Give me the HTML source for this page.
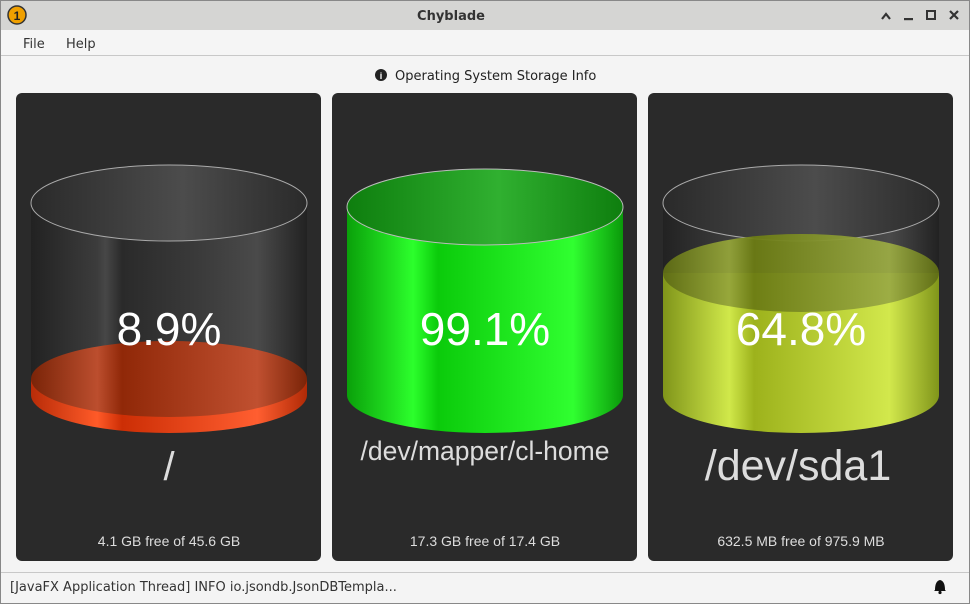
<!DOCTYPE html>
<html><head><meta charset="utf-8"><style>
html,body{margin:0;padding:0;width:970px;height:604px;overflow:hidden;background:#f4f4f4;font-family:"Liberation Sans","DejaVu Sans",sans-serif}
</style></head><body>
<svg width="970" height="604" viewBox="0 0 970 604" xmlns="http://www.w3.org/2000/svg" style="display:block">
<defs>
<linearGradient id="glass" x1="0" x2="1" y1="0" y2="0">
<stop offset="0" stop-color="#222"/><stop offset="0.24" stop-color="#3c3c3c"/><stop offset="0.27" stop-color="#474747"/><stop offset="0.33" stop-color="#2a2a2a"/><stop offset="0.6" stop-color="#3a3a3a"/><stop offset="0.82" stop-color="#4a4a4a"/><stop offset="1" stop-color="#222"/></linearGradient>
<linearGradient id="glassTop" x1="0" x2="1"><stop offset="0" stop-color="#2a2a2a"/><stop offset="0.55" stop-color="#4c4c4c"/><stop offset="1" stop-color="#2a2a2a"/></linearGradient>
<linearGradient id="red" x1="0" x2="1"><stop offset="0" stop-color="#b82c08"/><stop offset="0.24" stop-color="#ff5a28"/><stop offset="0.33" stop-color="#cc2e05"/><stop offset="0.82" stop-color="#ff5e30"/><stop offset="1" stop-color="#b02a06"/></linearGradient>
<linearGradient id="redTop" x1="0" x2="1"><stop offset="0" stop-color="#7a2408"/><stop offset="0.24" stop-color="#bc4e2e"/><stop offset="0.33" stop-color="#902808"/><stop offset="0.82" stop-color="#c05030"/><stop offset="1" stop-color="#7a2408"/></linearGradient>
<linearGradient id="green" x1="0" x2="1"><stop offset="0" stop-color="#0aa00a"/><stop offset="0.24" stop-color="#2cff2c"/><stop offset="0.33" stop-color="#0bcb0b"/><stop offset="0.82" stop-color="#30ff30"/><stop offset="1" stop-color="#0a9a0a"/></linearGradient>
<linearGradient id="greenTop" x1="0" x2="1"><stop offset="0" stop-color="#0e7e0e"/><stop offset="0.55" stop-color="#30b030"/><stop offset="1" stop-color="#0e7e0e"/></linearGradient>
<linearGradient id="yel" x1="0" x2="1"><stop offset="0" stop-color="#80951a"/><stop offset="0.24" stop-color="#d0e84a"/><stop offset="0.33" stop-color="#9db21c"/><stop offset="0.82" stop-color="#d2e84c"/><stop offset="1" stop-color="#80951a"/></linearGradient>
<linearGradient id="yelTop" x1="0" x2="1"><stop offset="0" stop-color="#5e6c14"/><stop offset="0.24" stop-color="#94a43a"/><stop offset="0.33" stop-color="#6c7c14"/><stop offset="0.82" stop-color="#9aaa44"/><stop offset="1" stop-color="#5e6c14"/></linearGradient>
</defs>
<!-- title bar -->
<rect x="0" y="0" width="970" height="30" fill="#d5d5d3"/>
<circle cx="17" cy="15" r="9" fill="#f0a000" stroke="#333" stroke-width="1.5"/>
<text x="17" y="20" font-size="12" font-weight="bold" text-anchor="middle" fill="#222">1</text>
<text x="451" y="20" font-size="13" font-weight="bold" text-anchor="middle" fill="#333" font-family="DejaVu Sans, sans-serif">Chyblade</text>
<path d="M882 19 L886 14 L890 19" stroke="#333" stroke-width="2.2" fill="none"/>
<rect x="904" y="18" width="9" height="2.2" fill="#333"/>
<rect x="927" y="11" width="8" height="8" fill="none" stroke="#333" stroke-width="2"/>
<path d="M950 11 L958 19 M958 11 L950 19" stroke="#333" stroke-width="2.2"/>
<!-- menu -->
<rect x="0" y="30" width="970" height="26" fill="#f5f5f5"/>
<line x1="0" y1="55.5" x2="970" y2="55.5" stroke="#c8c8c8"/>
<text x="23" y="48" font-size="13" fill="#333" font-family="DejaVu Sans, sans-serif">File</text>
<text x="66" y="48" font-size="13" fill="#333" font-family="DejaVu Sans, sans-serif">Help</text>
<!-- header -->
<circle cx="381" cy="75" r="6" fill="#222"/>
<text x="381" y="79" font-size="9" font-weight="bold" text-anchor="middle" fill="#fff">i</text>
<text x="395" y="80" font-size="13" fill="#222" font-family="DejaVu Sans, sans-serif">Operating System Storage Info</text>
<!-- panels -->
<rect x="16" y="93" width="305" height="468" rx="6" fill="#2a2a2a"/>
<rect x="332" y="93" width="305" height="468" rx="6" fill="#2a2a2a"/>
<rect x="648" y="93" width="305" height="468" rx="6" fill="#2a2a2a"/>

<!-- cyl 1 -->
<path d="M31 203 L31 395 A138 38 0 0 0 307 395 L307 203 Z" fill="url(#glass)"/>
<ellipse cx="169" cy="203" rx="138" ry="38" fill="url(#glassTop)" stroke="#aaa" stroke-width="1"/>
<path d="M31 379 L31 395 A138 38 0 0 0 307 395 L307 379 Z" fill="url(#red)"/>
<ellipse cx="169" cy="379" rx="138" ry="38" fill="url(#redTop)"/>
<text x="169" y="345" font-size="46" text-anchor="middle" fill="#fff">8.9%</text>
<text x="169" y="480" font-size="40" text-anchor="middle" fill="#ddd">/</text>
<text x="169" y="546" font-size="14" text-anchor="middle" fill="#ddd">4.1 GB free of 45.6 GB</text>

<!-- cyl 2 -->
<path d="M347 207 L347 395 A138 38 0 0 0 623 395 L623 207 Z" fill="url(#green)"/>
<ellipse cx="485" cy="207" rx="138" ry="38" fill="url(#greenTop)" stroke="#bbb" stroke-width="1"/>
<text x="485" y="345" font-size="46" text-anchor="middle" fill="#fff">99.1%</text>
<text x="485" y="460" font-size="26.5" text-anchor="middle" fill="#ddd">/dev/mapper/cl-home</text>
<text x="485" y="546" font-size="14" text-anchor="middle" fill="#ddd">17.3 GB free of 17.4 GB</text>

<!-- cyl 3 -->
<path d="M663 203 L663 395 A138 38 0 0 0 939 395 L939 203 Z" fill="url(#glass)"/>
<ellipse cx="801" cy="203" rx="138" ry="38" fill="url(#glassTop)" stroke="#aaa" stroke-width="1"/>
<path d="M663 273 L663 395 A138 38 0 0 0 939 395 L939 273 Z" fill="url(#yel)"/>
<ellipse cx="801" cy="273" rx="138" ry="39" fill="url(#yelTop)" opacity="0.95"/>
<text x="801" y="345" font-size="46" text-anchor="middle" fill="#fff">64.8%</text>
<text x="798" y="480" font-size="43" text-anchor="middle" fill="#ddd">/dev/sda1</text>
<text x="801" y="546" font-size="14" text-anchor="middle" fill="#ddd">632.5 MB free of 975.9 MB</text>

<!-- status bar -->
<line x1="0" y1="572.5" x2="970" y2="572.5" stroke="#c8c8c8"/>
<rect x="1" y="573" width="968" height="30" fill="#f4f4f4"/>
<text x="10" y="591" font-size="13" fill="#333" font-family="DejaVu Sans, sans-serif">[JavaFX Application Thread] INFO io.jsondb.JsonDBTempla...</text>
<path d="M935 590 Q935 581 940 580 Q945 581 945 590 L946 591 L934 591 Z" fill="#111"/>
<circle cx="940" cy="592.5" r="1.6" fill="#111"/>
<rect x="0.5" y="0.5" width="969" height="603" fill="none" stroke="#888"/>
</svg>
</body></html>
